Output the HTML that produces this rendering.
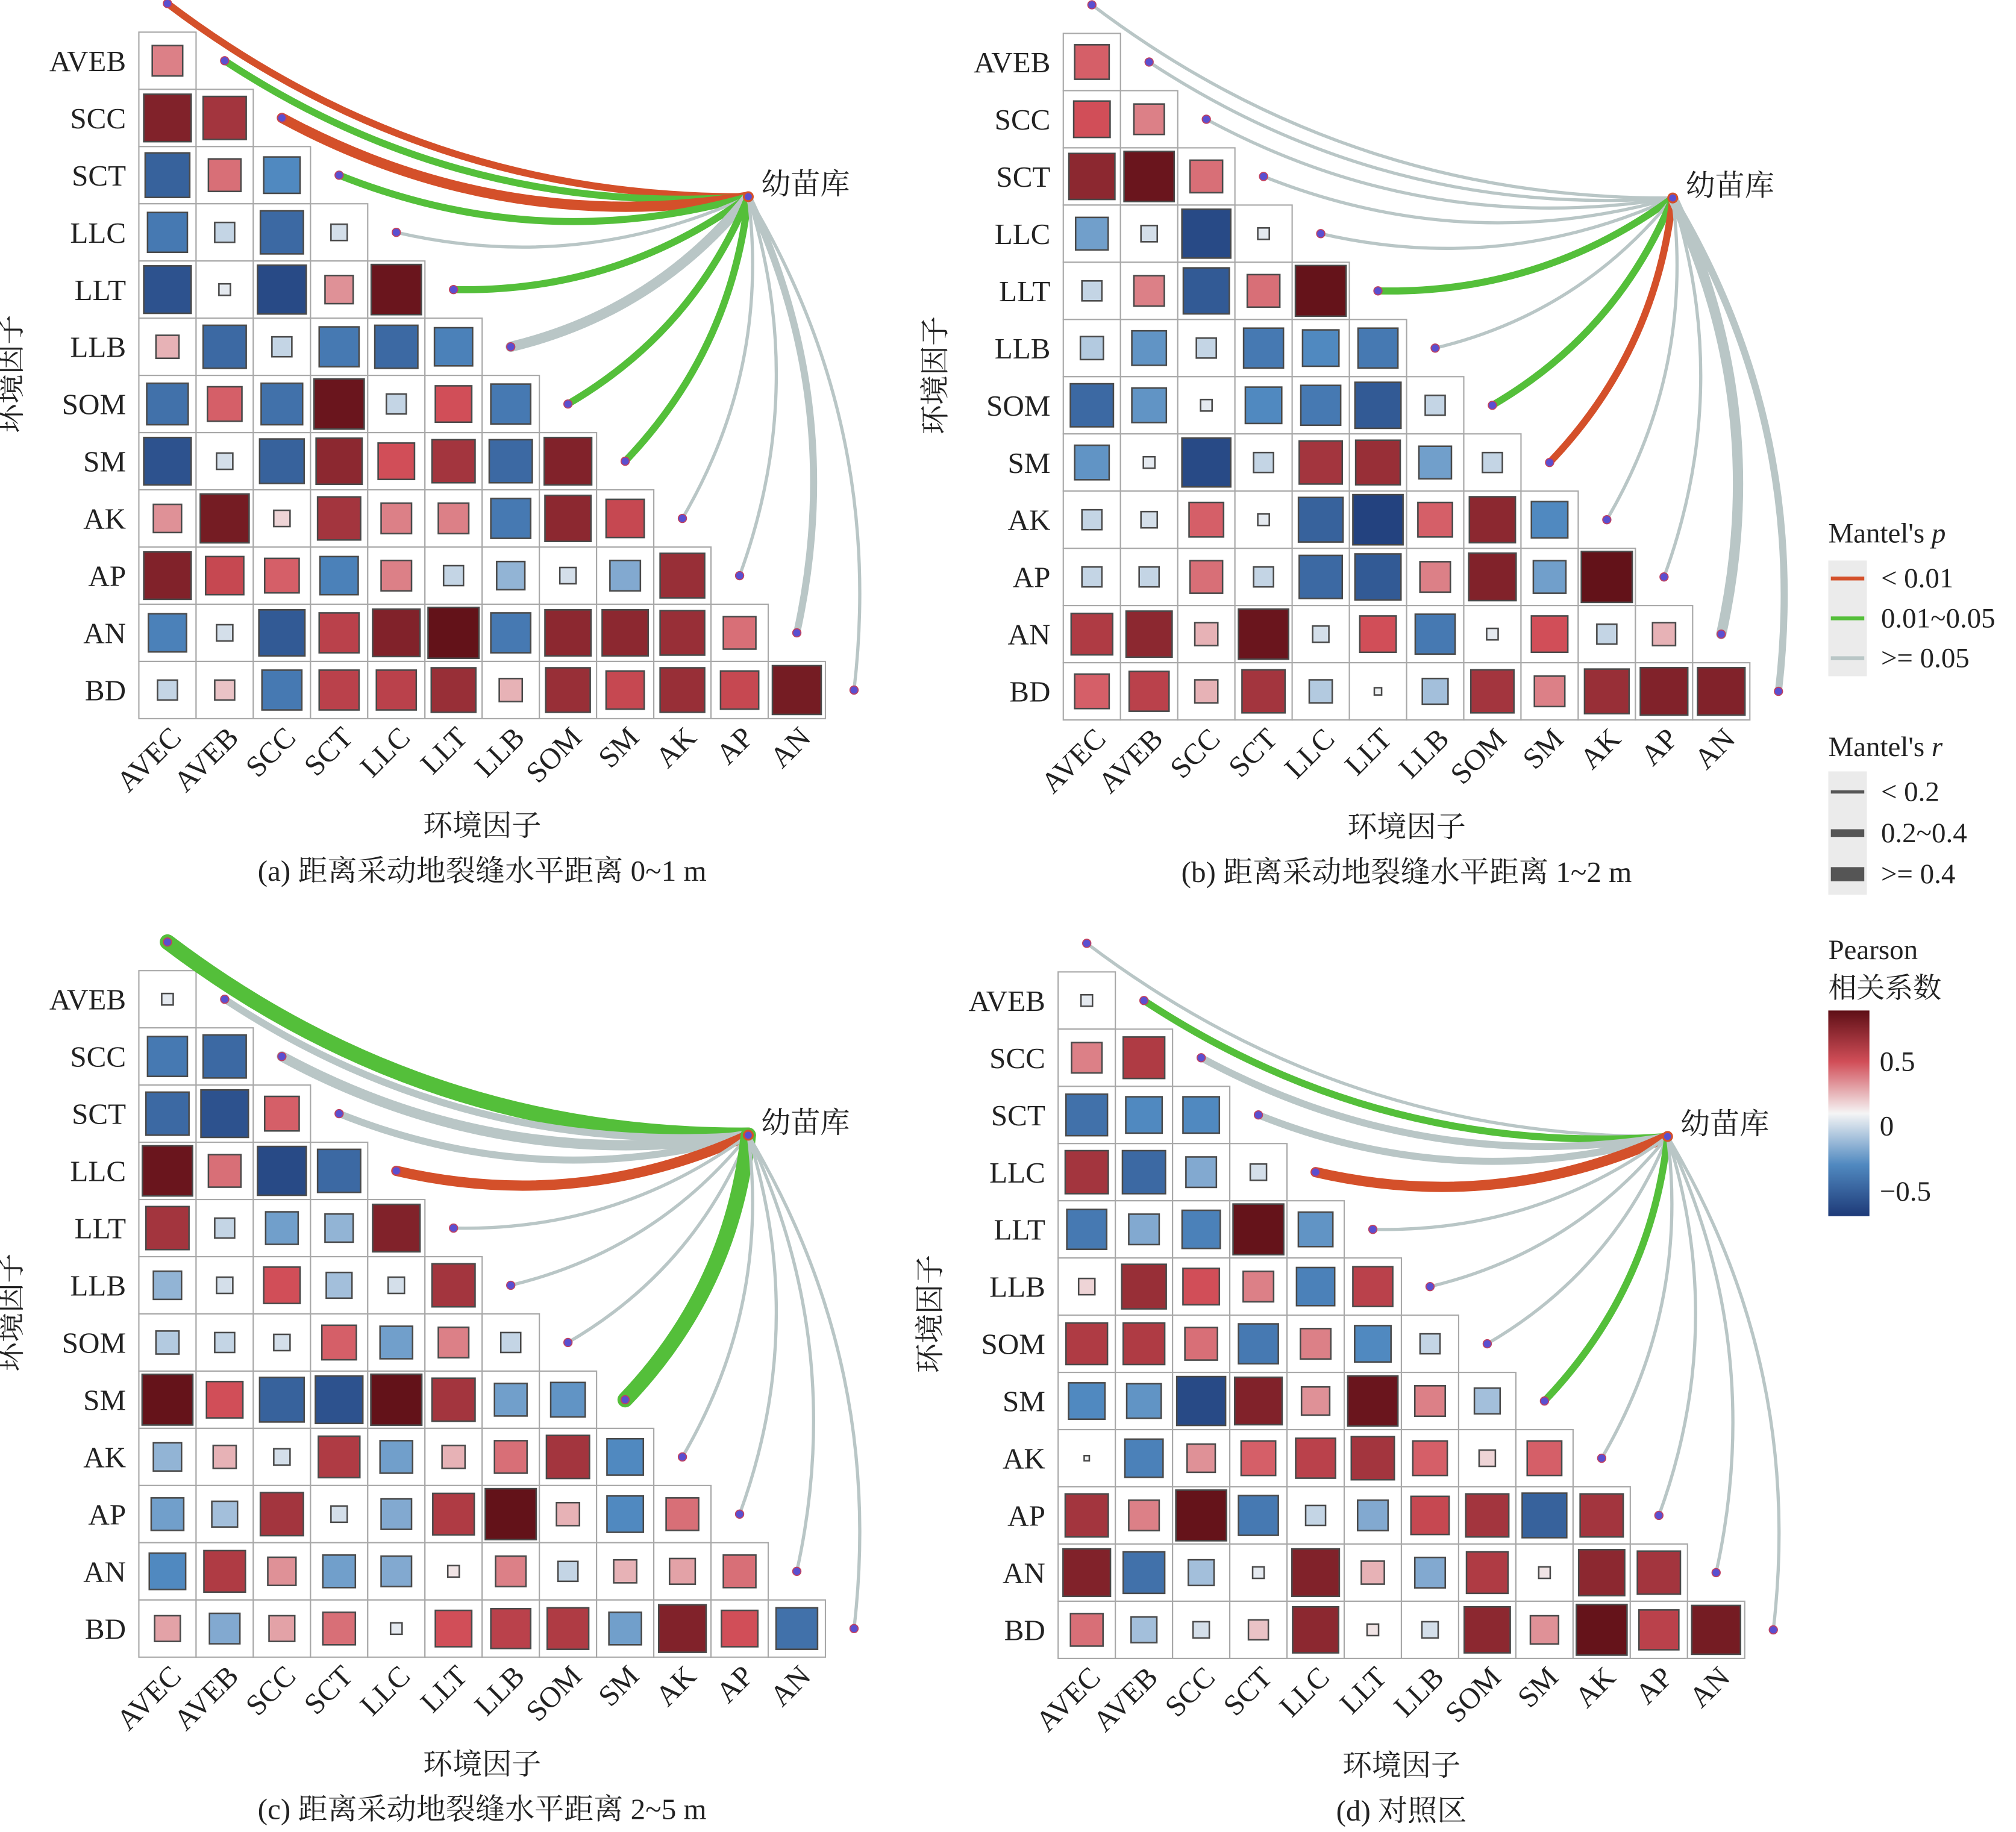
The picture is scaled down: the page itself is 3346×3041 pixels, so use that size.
<!DOCTYPE html>
<html><head><meta charset="utf-8"><style>
html,body{margin:0;padding:0;background:#fff;}
svg{display:block;}
text{font-family:"Liberation Serif","Noto Serif CJK SC",serif;fill:#222;}
</style></head><body>
<svg id="chart" width="3346" height="3041" viewBox="0 0 1568 1425" preserveAspectRatio="none" xmlns="http://www.w3.org/2000/svg">
<g id="panels"></g>
<g id="legend">
  <text x="1422" y="422" font-size="22">Mantel's <tspan font-style="italic">p</tspan></text>
  <rect x="1422" y="436" width="30" height="90" fill="#ebebeb"/>
  <line x1="1424" y1="450" x2="1450" y2="450" stroke="#d4502a" stroke-width="3"/>
  <line x1="1424" y1="481" x2="1450" y2="481" stroke="#54bf3a" stroke-width="3"/>
  <line x1="1424" y1="512" x2="1450" y2="512" stroke="#b9c6c6" stroke-width="3"/>
  <text x="1463" y="457" font-size="22">&lt; 0.01</text>
  <text x="1463" y="488" font-size="22">0.01~0.05</text>
  <text x="1463" y="519" font-size="22">&gt;= 0.05</text>
  <text x="1422" y="588" font-size="22">Mantel's <tspan font-style="italic">r</tspan></text>
  <rect x="1422" y="600" width="30" height="96" fill="#ebebeb"/>
  <line x1="1424" y1="616" x2="1450" y2="616" stroke="#555" stroke-width="2.5"/>
  <line x1="1424" y1="648" x2="1450" y2="648" stroke="#555" stroke-width="6"/>
  <line x1="1424" y1="680" x2="1450" y2="680" stroke="#555" stroke-width="11"/>
  <text x="1463" y="623" font-size="22">&lt; 0.2</text>
  <text x="1463" y="655" font-size="22">0.2~0.4</text>
  <text x="1463" y="687" font-size="22">&gt;= 0.4</text>
  <text x="1422" y="746" font-size="22">Pearson</text>
  <text x="1422" y="776" font-size="22">相关系数</text>
  <defs><linearGradient id="cb" x1="0" y1="0" x2="0" y2="1">
    <stop offset="0" stop-color="#5e0f16"/><stop offset="0.25" stop-color="#d14e58"/>
    <stop offset="0.5" stop-color="#f5f5f5"/><stop offset="0.75" stop-color="#5089c0"/>
    <stop offset="1" stop-color="#1e3a78"/></linearGradient></defs>
  <rect x="1422" y="786" width="32" height="160" fill="url(#cb)"/>
  <text x="1462" y="833" font-size="22">0.5</text>
  <text x="1462" y="883" font-size="22">0</text>
  <text x="1462" y="934" font-size="22">−0.5</text>
</g>
</svg>
<script>
const varNames = ["AVEC","AVEB","SCC","SCT","LLC","LLT","LLB","SOM","SM","AK","AP","AN","BD"];
const corrA = [[0.35],[0.85,0.7],[-0.75,0.4,-0.5],[-0.6,-0.15,-0.7,-0.1],[-0.85,-0.05,-0.9,0.3,0.95],[0.2,-0.7,-0.15,-0.6,-0.7,-0.55],[-0.65,0.45,-0.65,0.95,-0.15,0.5,-0.6],[-0.85,-0.1,-0.75,0.8,0.5,0.7,-0.7,0.85],[0.3,0.9,0.1,0.7,0.35,0.35,-0.6,0.8,0.55],[0.85,0.55,0.45,-0.55,0.35,-0.15,-0.3,-0.1,-0.35,0.75],[-0.55,-0.1,-0.8,0.6,0.85,0.98,-0.6,0.8,0.8,0.75,0.4],[-0.15,0.15,-0.6,0.6,0.6,0.75,0.2,0.75,0.55,0.75,0.55,0.9]];
const corrB = [[0.45],[0.5,0.35],[0.8,0.95,0.4],[-0.4,-0.1,-0.9,-0.05],[-0.15,0.35,-0.8,0.4,0.97],[-0.2,-0.45,-0.15,-0.6,-0.5,-0.6],[-0.7,-0.45,-0.05,-0.5,-0.6,-0.8,-0.15],[-0.45,-0.05,-0.9,-0.15,0.7,0.75,-0.4,-0.15],[-0.15,-0.1,0.45,-0.05,-0.75,-0.95,0.45,0.8,-0.5],[-0.15,-0.15,0.4,-0.15,-0.7,-0.8,0.35,0.85,-0.4,0.98],[0.65,0.8,0.2,0.95,-0.1,0.5,-0.6,-0.05,0.5,-0.15,0.2],[0.45,0.6,0.2,0.7,-0.2,-0.02,-0.25,0.7,0.35,0.75,0.85,0.85]];
const corrC = [[-0.05],[-0.6,-0.7],[-0.7,-0.85,0.45],[0.95,0.4,-0.9,-0.7],[0.7,-0.15,-0.4,-0.3,0.85],[-0.3,-0.1,0.5,-0.25,-0.1,0.7],[-0.2,-0.15,-0.1,0.45,-0.4,0.35,-0.15],[0.97,0.5,-0.75,-0.85,0.98,0.7,-0.4,-0.45],[-0.3,0.2,-0.1,0.65,-0.4,0.2,0.4,0.7,-0.5],[-0.4,-0.25,0.7,-0.1,-0.35,0.65,0.98,0.2,-0.5,0.4],[-0.5,0.65,0.3,-0.4,-0.35,0.05,0.35,-0.15,0.2,0.25,0.4],[0.25,-0.35,0.25,0.4,-0.05,0.5,0.6,0.65,-0.4,0.85,0.5,-0.65]];
const corrD = [[-0.05],[0.35,0.65],[-0.65,-0.5,-0.5],[0.7,-0.7,-0.35,-0.1],[-0.6,-0.35,-0.55,0.97,-0.45],[0.1,0.75,0.5,0.35,-0.55,0.6],[0.65,0.65,0.4,-0.6,0.35,-0.5,-0.15],[-0.5,-0.45,-0.9,0.85,0.3,0.95,0.35,-0.25],[-0.01,-0.55,0.3,0.45,0.6,0.7,0.45,0.1,0.45],[0.7,0.35,0.97,-0.6,-0.15,-0.35,0.55,0.7,-0.75,0.7],[0.85,-0.65,-0.25,-0.05,0.85,0.2,-0.35,0.65,0.05,0.8,0.7],[0.4,-0.25,-0.1,0.15,0.8,0.05,-0.1,0.8,0.3,0.97,0.6,0.9]];
const mantelPA = [0.005,0.03,0.005,0.03,0.2,0.03,0.1,0.03,0.03,0.3,0.3,0.2,0.3];
const mantelRA = [0.3,0.3,0.45,0.3,0.1,0.3,0.45,0.3,0.3,0.1,0.1,0.25,0.1];
const mantelPB = [0.3,0.3,0.3,0.3,0.3,0.03,0.3,0.03,0.005,0.3,0.3,0.1,0.2];
const mantelRB = [0.1,0.1,0.1,0.1,0.1,0.3,0.1,0.3,0.3,0.1,0.1,0.45,0.25];
const mantelPC = [0.03,0.2,0.1,0.2,0.005,0.3,0.3,0.3,0.03,0.3,0.3,0.3,0.3];
const mantelRC = [0.6,0.25,0.45,0.25,0.45,0.1,0.1,0.1,0.6,0.1,0.1,0.1,0.1];
const mantelPD = [0.3,0.03,0.2,0.2,0.005,0.3,0.3,0.3,0.03,0.3,0.3,0.3,0.3];
const mantelRD = [0.1,0.3,0.25,0.25,0.45,0.1,0.1,0.1,0.3,0.1,0.1,0.1,0.1];
const captions = ["(a) 距离采动地裂缝水平距离 0~1 m","(b) 距离采动地裂缝水平距离 1~2 m","(c) 距离采动地裂缝水平距离 2~5 m","(d) 对照区"];

const NS="http://www.w3.org/2000/svg";
const CELL=44.5;
function mk(tag,attrs,parent){const e=document.createElementNS(NS,tag);for(const k in attrs)e.setAttribute(k,attrs[k]);parent.appendChild(e);return e;}
function hex(h){return [1,3,5].map(i=>parseInt(h.substr(i,2),16));}
const stops=[[-1,"#1e3a78"],[-0.5,"#5089c0"],[0,"#f5f5f5"],[0.5,"#d14e58"],[1,"#5e0f16"]];
function colorOf(v){v=Math.max(-1,Math.min(1,v));for(let i=0;i<4;i++){const[a,ca]=stops[i],[b,cb]=stops[i+1];if(v<=b){const t=(v-a)/(b-a),A=hex(ca),B=hex(cb);return "rgb("+A.map((x,j)=>Math.round(x+(B[j]-x)*t)).join(",")+")";}}return stops[4][1];}
function pColor(p){return p<0.01?"#d4502a":(p<0.05?"#54bf3a":"#b9c6c6");}
function rWidth(r){return r<0.2?2.5:(r<0.4?5.5:(r<0.55?8:12));}

function drawPanel(idx,ox,oy,corr,mp,mr){
  const g=mk("g",{transform:"translate("+ox+","+oy+")"},document.getElementById("panels"));
  
  
  const x0=108,y0=25;
  const cx=c=>x0+CELL*(c+0.5);
  const cy=r=>y0+CELL*(r-0.5);
  for(let r=1;r<=12;r++){
    for(let c=0;c<r;c++){
      const v=corr[r-1][c];
      mk("rect",{x:x0+CELL*c,y:y0+CELL*(r-1),width:CELL,height:CELL,fill:"#fff",stroke:"#a8a8a8","stroke-width":1},g);
      const s=40*Math.sqrt(Math.abs(v));
      const sq=mk("rect",{x:cx(c)-s/2,y:cy(r)-s/2,width:s,height:s,fill:colorOf(v),stroke:"#4a4a4a","stroke-width":1.2},g);
      
      
    }
    const t=mk("text",{x:98,y:cy(r)+8,"font-size":23,"text-anchor":"end"},g);t.textContent=varNames[r];
    
    
  }
  for(let c=0;c<12;c++){
    const t=mk("text",{x:0,y:0,"font-size":23,"text-anchor":"end",transform:"translate("+(cx(c)+12)+",575) rotate(-45)"},g);t.textContent=varNames[c];
    
    
  }
  const at=mk("text",{x:375,y:650,"font-size":23,"text-anchor":"middle"},g);at.textContent="环境因子";
  
  
  const yt=mk("text",{x:0,y:0,"font-size":23,"text-anchor":"middle",transform:"translate(16,291) rotate(-90)"},g);yt.textContent="环境因子";
  
  
  const cap=mk("text",{x:375,y:685,"font-size":23,"text-anchor":"middle"},g);cap.textContent=captions[idx];
  
  
  const T=[582,153];
  for(let i=0;i<13;i++){
    const N=[cx(i),cy(i)];
    const dx=N[0]-T[0],dy=N[1]-T[1],k=0.17;
    const mx=(N[0]+T[0])/2+k*dy,my=(N[1]+T[1])/2-k*dx;
    const p=mk("path",{d:"M"+T[0]+","+T[1]+" Q"+mx+","+my+" "+N[0]+","+N[1],fill:"none",stroke:pColor(mp[i]),"stroke-width":rWidth(mr[i]),"stroke-linecap":"round"},g);
    
    
  }
  for(let i=0;i<13;i++){
    const d=mk("circle",{cx:cx(i),cy:cy(i),r:3.2,fill:"#5a4fd0",stroke:"#c04060","stroke-width":0.8},g);
    
    
  }
  const td=mk("circle",{cx:T[0],cy:T[1],r:3.5,fill:"#5a4fd0",stroke:"#d4502a","stroke-width":1.5},g);
  
  
  const tl=mk("text",{x:T[0]+10,y:T[1]-2,"font-size":23},g);tl.textContent="幼苗库";
  
  
}
drawPanel(0,0,0,corrA,mantelPA,mantelRA);
drawPanel(1,719,1,corrB,mantelPB,mantelRB);
drawPanel(2,0,730,corrC,mantelPC,mantelRC);
drawPanel(3,715,731,corrD,mantelPD,mantelRD);
</script>
</body></html>
